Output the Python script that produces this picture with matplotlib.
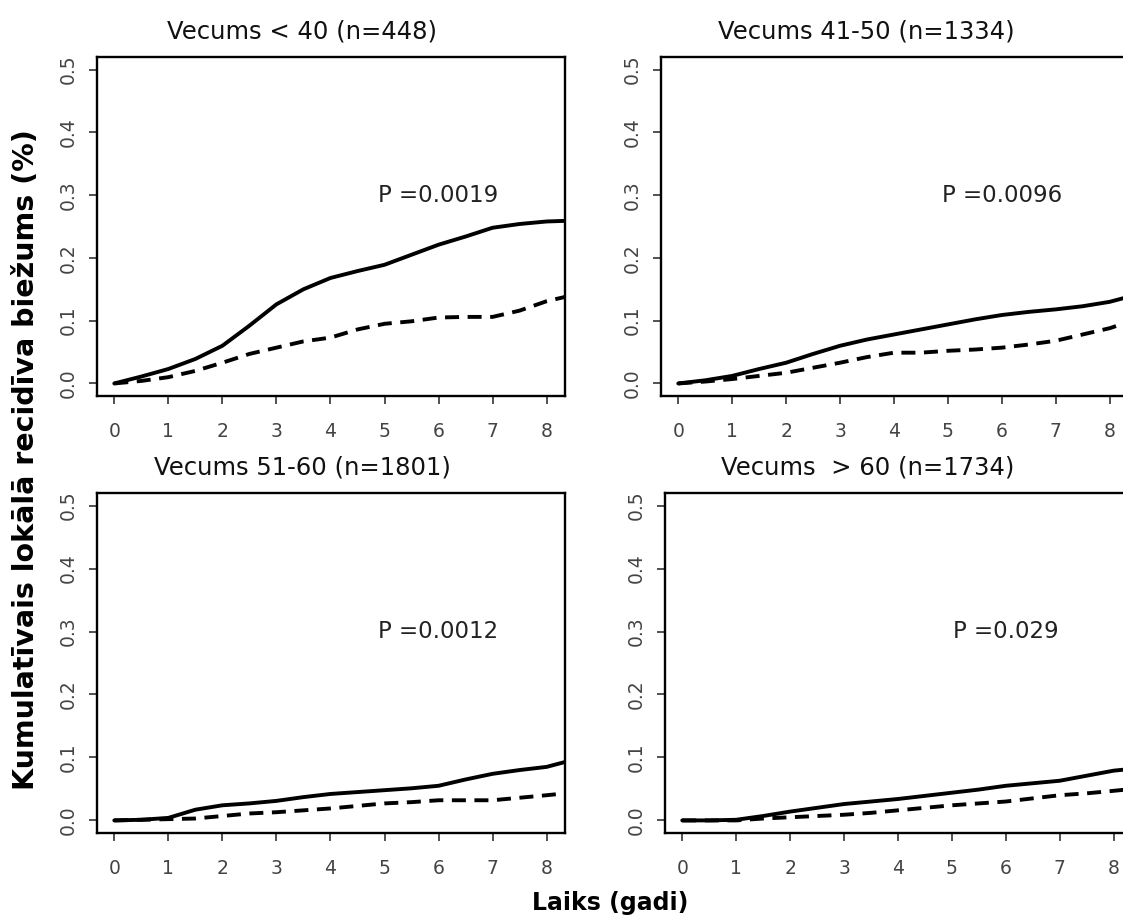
import numpy as np
from matplotlib import pyplot as plt

years = [0, 0.5, 1, 1.5, 2, 2.5, 3, 3.5, 4, 4.5, 5, 5.5, 6, 6.5, 7, 7.5, 8, 8.35]

titles = ["Vecums < 40 (n=448)", "Vecums 41-50 (n=1334)",
          "Vecums 51-60 (n=1801)", "Vecums  > 60 (n=1734)"]
p_values = ["P =0.0019", "P =0.0096", "P =0.0012", "P =0.029"]

solid_lt40 = [0, .011, .023, .039, .060, .092, .126, .150, .168, .179, .189, .205, .221, .234, .248, .254, .258, .259]
dashed_lt40 = [0, .004, .010, .020, .033, .047, .057, .067, .073, .086, .095, .099, .105, .106, .106, .116, .131, .138]

solid_41_50 = [0, .005, .012, .023, .033, .047, .060, .070, .078, .086, .094, .102, .109, .114, .118, .123, .130, .138]
dashed_41_50 = [0, .003, .007, .012, .017, .025, .033, .042, .049, .049, .052, .054, .057, .062, .068, .078, .088, .098]

solid_51_60 = [0, .001, .004, .017, .024, .027, .031, .037, .042, .045, .048, .051, .055, .065, .074, .080, .085, .093]
dashed_51_60 = [0, .001, .002, .003, .007, .011, .013, .016, .019, .023, .027, .029, .032, .032, .032, .036, .040, .043]

solid_gt60 = [0, 0, .001, .007, .014, .020, .026, .030, .034, .039, .044, .049, .055, .059, .063, .071, .079, .082]
dashed_gt60 = [0, 0, 0, .003, .005, .007, .009, .012, .016, .020, .024, .027, .030, .035, .040, .043, .047, .050]

solids = [solid_lt40, solid_41_50, solid_51_60, solid_gt60]
dashes = [dashed_lt40, dashed_41_50, dashed_51_60, dashed_gt60]

W, H = 1123, 918
fig = plt.figure(figsize=(W / 100, H / 100), dpi=100)

# panel boxes in pixels: left, right, top, bottom
boxes = [(97, 565, 57, 396), (661, 1128, 57, 396),
         (97, 565, 493, 833), (665, 1132, 493, 833)]
title_x = [302, 866, 302, 868]
title_y = [32, 32, 468, 468]

for i in range(4):
    l, r, t, b = boxes[i]
    ax = fig.add_axes([l / W, 1 - b / H, (r - l) / W, (b - t) / H])
    ax.plot(years, solids[i], color='black', lw=2.8, solid_joinstyle='round',
            solid_capstyle='round')
    ax.plot(years, dashes[i], color='black', lw=2.8, linestyle=(0, (3.6, 2.2)),
            dash_capstyle='butt')
    ax.set_xlim(-0.32, 8.34)
    ax.set_ylim(-0.02, 0.52)
    ax.set_xticks(range(9))
    ax.set_yticks([0, 0.1, 0.2, 0.3, 0.4, 0.5])
    ax.set_yticklabels(["0.0", "0.1", "0.2", "0.3", "0.4", "0.5"],
                       rotation=90, va='center')
    ax.tick_params(length=6, width=1.2, labelsize=13.5, labelcolor='#444444',
                   color='#333333')
    ax.tick_params(axis='x', pad=13)
    ax.tick_params(axis='y', pad=8)
    for s in ax.spines.values():
        s.set_linewidth(1.7)
    ax.text(6, 0.3, p_values[i], ha='center', va='center', fontsize=16.5,
            color='#222222')
    fig.text(title_x[i] / W, 1 - title_y[i] / H, titles[i], ha='center',
             va='center', fontsize=17.5, color='#111111')

fig.text(26 / W, 1 - 460 / H, "Kumulatīvais lokālā recidīva biežums (%)",
         rotation=90, ha='center', va='center', fontsize=20.5, fontweight='bold')
fig.text(610 / W, 1 - 903 / H, "Laiks (gadi)", ha='center', va='center',
         fontsize=17, fontweight='bold')

fig.savefig("out.png", dpi=100)
